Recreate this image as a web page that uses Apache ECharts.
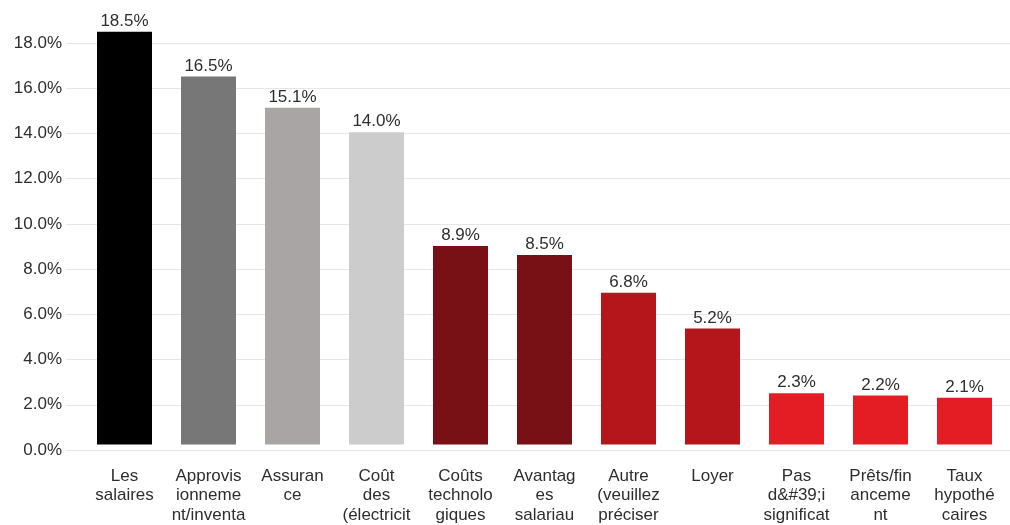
<!DOCTYPE html>
<html>
<head>
<meta charset="utf-8">
<style>
  html, body { margin: 0; padding: 0; background: #ffffff; }
  #chart { width: 1010px; height: 525px; }
</style>
<script src="https://cdn.jsdelivr.net/npm/echarts@6/dist/echarts.min.js"></script>
</head>
<body>
<div id="chart"></div>
<script>
// Cost categories (wrapped as laid out under each bar)
const categories = [
  "Les\nsalaires",
  "Approvis\nionneme\nnt/inventa",
  "Assuran\nce",
  "Coût\ndes\n(électricit",
  "Coûts\ntechnolo\ngiques",
  "Avantag\nes\nsalariau",
  "Autre\n(veuillez\npréciser",
  "Loyer",
  "Pas\nd&#39;i\nsignificat",
  "Prêts/fin\nanceme\nnt",
  "Taux\nhypothé\ncaires"
];

// Share of respondents, in percent
const values = [18.5, 16.5, 15.1, 14.0, 8.9, 8.5, 6.8, 5.2, 2.3, 2.2, 2.1];

// Bar fill per category
const barColors = [
  "#000000", "#777777", "#a9a5a4", "#cccccc",
  "#771115", "#771115", "#b5161c", "#b5161c",
  "#e41d24", "#e41d24", "#e41d24"
];

const FONT = "'Liberation Sans', Arial, sans-serif";
const TEXT = "#2e2e2e";

const chart = echarts.init(document.getElementById("chart"), null, { renderer: "canvas" });

chart.setOption({
  animation: false,
  backgroundColor: "#ffffff",
  grid: [
    // bars
    { left: 82.5, right: 3.5, top: 43, bottom: 75 },
    // gridlines and percentage labels
    { left: 66, right: 0, top: 43, bottom: 75 }
  ],
  xAxis: [
    {
      type: "category",
      gridIndex: 0,
      data: categories,
      axisLine: { show: false },
      axisTick: { show: false },
      axisLabel: {
        interval: 0,
        margin: 22,
        color: TEXT,
        fontFamily: FONT,
        fontSize: 17,
        lineHeight: 19.5
      }
    },
    {
      type: "value",
      gridIndex: 1,
      min: 0,
      max: 1,
      show: false
    }
  ],
  yAxis: [
    {
      type: "value",
      gridIndex: 0,
      min: 0,
      max: 18,
      interval: 2,
      axisLine: { show: false },
      axisTick: { show: false },
      axisLabel: { show: false },
      splitLine: { show: false }
    },
    {
      type: "value",
      gridIndex: 1,
      min: 0,
      max: 18,
      interval: 2,
      axisLine: { show: false },
      axisTick: { show: false },
      axisLabel: {
        margin: 4,
        color: TEXT,
        fontFamily: FONT,
        fontSize: 17,
        formatter: v => v.toFixed(1) + "%"
      },
      splitLine: { show: true, lineStyle: { color: "#e6e6e6", width: 1 } }
    }
  ],
  series: [
    {
      type: "bar",
      xAxisIndex: 0,
      yAxisIndex: 0,
      clip: false,
      barWidth: 55,
      data: values.map((v, i) => ({ value: v, itemStyle: { color: barColors[i] } })),
      label: {
        show: true,
        position: "top",
        distance: 2,
        color: TEXT,
        fontFamily: FONT,
        fontSize: 17,
        formatter: p => p.value.toFixed(1) + "%"
      }
    }
  ]
});
</script>
</body>
</html>
